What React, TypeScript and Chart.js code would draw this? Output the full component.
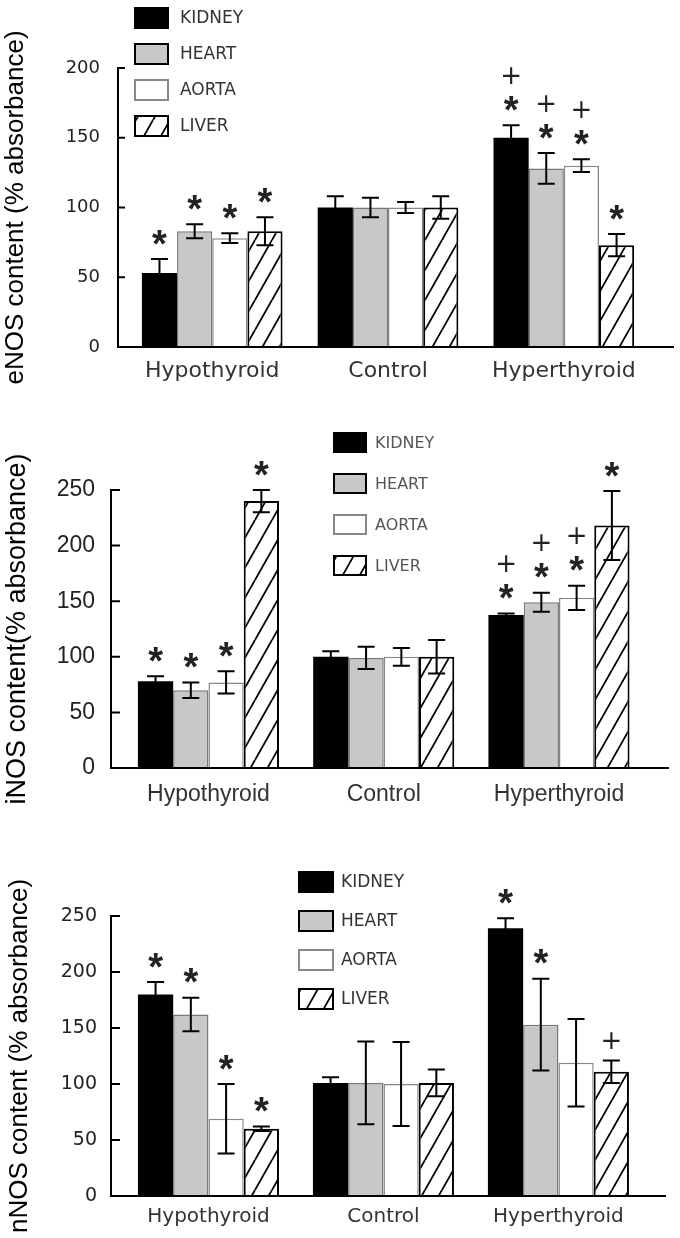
import React, { useEffect, useRef } from 'react';
import { Chart, registerables } from 'chart.js';

Chart.register(...registerables);

// ---------- data ----------
const groups = ['Hypothyroid', 'Control', 'Hyperthyroid'];
const tissues = ['KIDNEY', 'HEART', 'AORTA', 'LIVER'];

const yTicks200 = [0, 50, 100, 150, 200];
const yTicks250 = [0, 50, 100, 150, 200, 250];

// eNOS (% absorbance)
const eNOSKidney = [53, 100, 150];
const eNOSHeart = [83, 100, 128];
const eNOSAorta = [78, 100, 130];
const eNOSLiver = [83, 100, 73];
const eNOSKidneyErr = [10, 8, 9];
const eNOSHeartErr = [5, 7, 11];
const eNOSAortaErr = [3.5, 4, 4.5];
const eNOSLiverErr = [10, 8, 8];
const eNOSKidneyMarks = ['*', '', '*+'];
const eNOSHeartMarks = ['*', '', '*+'];
const eNOSAortaMarks = ['*', '', '*+'];
const eNOSLiverMarks = ['*', '', '*'];

// iNOS (% absorbance)
const iNOSKidney = [78, 100, 137.5];
const iNOSHeart = [70, 99, 149];
const iNOSAorta = [77, 100, 153];
const iNOSLiver = [240, 100, 218];
const iNOSKidneyErr = [4.5, 5, 1.5];
const iNOSHeartErr = [7, 10, 8.5];
const iNOSAortaErr = [10, 8, 11];
const iNOSLiverErr = [10, 15, 31];
const iNOSKidneyMarks = ['*', '', '*+'];
const iNOSHeartMarks = ['*', '', '*+'];
const iNOSAortaMarks = ['*', '', '*+'];
const iNOSLiverMarks = ['*', '', '*'];

// nNOS (% absorbance)
const nNOSKidney = [180, 101, 239];
const nNOSHeart = [162, 101, 153];
const nNOSAorta = [69, 100, 119];
const nNOSLiver = [60, 101, 111];
const nNOSKidneyErr = [11, 5, 9];
const nNOSHeartErr = [15, 37, 41];
const nNOSAortaErr = [31, 37.5, 39];
const nNOSLiverErr = [2, 12, 10];
const nNOSKidneyMarks = ['*', '', '*'];
const nNOSHeartMarks = ['*', '', '*'];
const nNOSAortaMarks = ['*', '', ''];
const nNOSLiverMarks = ['*', '', '+'];

// ---------- styles ----------
const tissueStyles = [
  { fill: '#000000', border: '#000000', borderWidth: 0, legendBorder: '#000000', legendBorderWidth: 0 },
  { fill: '#c8c8c8', border: '#777777', borderWidth: 1.5, legendBorder: '#000000', legendBorderWidth: 2 },
  { fill: '#ffffff', border: '#888888', borderWidth: 1.5, legendBorder: '#888888', legendBorderWidth: 2 },
  { fill: 'hatch', border: '#000000', borderWidth: 2, legendBorder: '#000000', legendBorderWidth: 2 },
];

type PanelCfg = {
  top: number;
  height: number;
  title: string;
  values: number[][];
  errors: number[][];
  marks: string[][];
  yMax: number;
  yTicks: number[];
  area: { left: number; right: number; top: number; bottom: number };
  xMin: number;
  xMax: number;
  catPct: number;
  tickFont: any;
  tickPad: number;
  catFont: any;
  catPad: number;
  titleFont: any;
  titlePad: number;
  tickLen: number;
  legend: { x: number; y: number; w: number; h: number; gap: number; textX: number; font: string; color: string };
};

const panels: PanelCfg[] = [
  {
    top: 0,
    height: 395,
    title: 'eNOS content (% absorbance)',
    values: [eNOSKidney, eNOSHeart, eNOSAorta, eNOSLiver],
    errors: [eNOSKidneyErr, eNOSHeartErr, eNOSAortaErr, eNOSLiverErr],
    marks: [eNOSKidneyMarks, eNOSHeartMarks, eNOSAortaMarks, eNOSLiverMarks],
    yMax: 200,
    yTicks: yTicks200,
    area: { left: 118, right: 673, top: 68, bottom: 347 },
    xMin: -0.536,
    xMax: 2.621,
    catPct: 0.8,
    tickFont: { family: 'DejaVu Sans', size: 18 },
    tickPad: 18,
    catFont: { family: 'DejaVu Sans', size: 22 },
    catPad: 11,
    titleFont: { family: 'Liberation Sans', size: 26 },
    titlePad: 0,
    tickLen: 7,
    legend: { x: 134, y: 7, w: 35, h: 22, gap: 36, textX: 180, font: '17px "DejaVu Sans"', color: '#333333' },
  },
  {
    top: 400,
    height: 425,
    title: 'iNOS content(% absorbance)',
    values: [iNOSKidney, iNOSHeart, iNOSAorta, iNOSLiver],
    errors: [iNOSKidneyErr, iNOSHeartErr, iNOSAortaErr, iNOSLiverErr],
    marks: [iNOSKidneyMarks, iNOSHeartMarks, iNOSAortaMarks, iNOSLiverMarks],
    yMax: 250,
    yTicks: yTicks250,
    area: { left: 111, right: 668, top: 90, bottom: 368 },
    xMin: -0.556,
    xMax: 2.622,
    catPct: 0.805,
    tickFont: { family: 'Liberation Sans', size: 23 },
    tickPad: 16,
    catFont: { family: 'Liberation Sans', size: 23 },
    catPad: 13,
    titleFont: { family: 'Liberation Sans', size: 27 },
    titlePad: 1,
    tickLen: 9,
    legend: { x: 333, y: 32, w: 34, h: 21, gap: 41, textX: 375, font: '16px "DejaVu Sans"', color: '#555555' },
  },
  {
    top: 830,
    height: 408,
    title: 'nNOS content (% absorbance)',
    values: [nNOSKidney, nNOSHeart, nNOSAorta, nNOSLiver],
    errors: [nNOSKidneyErr, nNOSHeartErr, nNOSAortaErr, nNOSLiverErr],
    marks: [nNOSKidneyMarks, nNOSHeartMarks, nNOSAortaMarks, nNOSLiverMarks],
    yMax: 250,
    yTicks: yTicks250,
    area: { left: 111, right: 665, top: 86, bottom: 366 },
    xMin: -0.557,
    xMax: 2.609,
    catPct: 0.806,
    tickFont: { family: 'DejaVu Sans', size: 19 },
    tickPad: 14,
    catFont: { family: 'DejaVu Sans', size: 20 },
    catPad: 9,
    titleFont: { family: 'Liberation Sans', size: 26 },
    titlePad: 4,
    tickLen: 9,
    legend: { x: 298, y: 41, w: 36, h: 22, gap: 39, textX: 341, font: '17px "DejaVu Sans"', color: '#333333' },
  },
];

const CAP_HALF = 8.5;
const STAR_FONT = 'bold 38px "Liberation Sans"';
const PLUS_FONT = '26px "DejaVu Sans"';
const STAR_OFFSET = 22;
const PLUS_GAP = 28;
const PLUS_ONLY_OFFSET = 20;

function makeHatch(ctx: CanvasRenderingContext2D) {
  const w = 17;
  const h = 30;
  const c = document.createElement('canvas');
  c.width = w;
  c.height = h;
  const g = c.getContext('2d')!;
  g.fillStyle = '#ffffff';
  g.fillRect(0, 0, w, h);
  g.strokeStyle = '#000000';
  g.lineWidth = 1.8;
  g.beginPath();
  for (const dx of [-w, 0, w]) {
    g.moveTo(dx, h);
    g.lineTo(dx + w, 0);
  }
  g.stroke();
  return ctx.createPattern(c, 'repeat')!;
}

function drawCentered(ctx: CanvasRenderingContext2D, text: string, x: number, cy: number, font: string) {
  ctx.font = font;
  ctx.textAlign = 'center';
  ctx.textBaseline = 'alphabetic';
  const m = ctx.measureText(text);
  const base = cy + (m.actualBoundingBoxAscent - m.actualBoundingBoxDescent) / 2;
  ctx.fillText(text, x, base);
}

function Panel({ cfg }: { cfg: PanelCfg }) {
  const ref = useRef<HTMLCanvasElement>(null);

  useEffect(() => {
    const canvas = ref.current!;
    const ctx0 = canvas.getContext('2d')!;
    const hatch = makeHatch(ctx0);
    const fills = tissueStyles.map((s) => (s.fill === 'hatch' ? hatch : s.fill));

    const datasets = tissues.map((t, i) => ({
      label: t,
      data: groups.map((_, g) => ({ x: g, y: cfg.values[i][g] })),
      backgroundColor: fills[i],
      borderColor: tissueStyles[i].border,
      borderWidth: tissueStyles[i].borderWidth,
      errorBars: cfg.errors[i],
      marks: cfg.marks[i],
    }));

    const errorPlugin = {
      id: 'errorsAndMarks',
      afterDatasetsDraw(chart: any) {
        const ctx = chart.ctx as CanvasRenderingContext2D;
        const ys = chart.scales.y;
        chart.data.datasets.forEach((ds: any, di: number) => {
          const meta = chart.getDatasetMeta(di);
          meta.data.forEach((bar: any, i: number) => {
            const v = ds.data[i].y;
            const e = ds.errorBars[i];
            const x = bar.x;
            const yt = ys.getPixelForValue(v + e);
            const yb = ys.getPixelForValue(v - e);
            ctx.save();
            ctx.strokeStyle = '#000000';
            ctx.lineWidth = 2;
            ctx.beginPath();
            ctx.moveTo(x, yt);
            ctx.lineTo(x, yb);
            ctx.moveTo(x - CAP_HALF, yt);
            ctx.lineTo(x + CAP_HALF, yt);
            ctx.moveTo(x - CAP_HALF, yb);
            ctx.lineTo(x + CAP_HALF, yb);
            ctx.stroke();
            const m: string = ds.marks[i] || '';
            ctx.fillStyle = '#222222';
            let cy = yt - STAR_OFFSET;
            if (m.includes('*')) {
              drawCentered(ctx, '*', x, cy, STAR_FONT);
              cy -= PLUS_GAP;
            } else {
              cy = yt - PLUS_ONLY_OFFSET;
            }
            if (m.includes('+')) drawCentered(ctx, '+', x, cy, PLUS_FONT);
            ctx.restore();
          });
        });
      },
    };

    const decorPlugin = {
      id: 'decor',
      afterDraw(chart: any) {
        const ctx = chart.ctx as CanvasRenderingContext2D;
        const ys = chart.scales.y;
        const left = chart.chartArea.left;
        ctx.save();
        // inward tick marks
        ctx.strokeStyle = '#000000';
        ctx.lineWidth = 2;
        ctx.beginPath();
        ys.ticks.forEach((t: any) => {
          const y = ys.getPixelForValue(t.value);
          ctx.moveTo(left, y);
          ctx.lineTo(left + cfg.tickLen, y);
        });
        ctx.stroke();
        // legend
        const L = cfg.legend;
        chart.data.datasets.forEach((ds: any, i: number) => {
          const st = tissueStyles[i];
          const bx = L.x;
          const by = L.y + i * L.gap;
          ctx.fillStyle = fills[i] as any;
          ctx.fillRect(bx, by, L.w, L.h);
          if (st.legendBorderWidth) {
            const lw = st.legendBorderWidth;
            ctx.lineWidth = lw;
            ctx.strokeStyle = st.legendBorder;
            ctx.strokeRect(bx + lw / 2, by + lw / 2, L.w - lw, L.h - lw);
          }
          ctx.fillStyle = L.color;
          ctx.font = L.font;
          ctx.textAlign = 'left';
          ctx.textBaseline = 'middle';
          ctx.fillText(ds.label, L.textX, by + L.h / 2 + 1);
        });
        ctx.restore();
      },
    };

    const chart = new Chart(canvas, {
      type: 'bar',
      data: { datasets: datasets as any },
      options: {
        responsive: false,
        animation: false,
        events: [],
        layout: {
          padding: { top: cfg.area.top, right: 680 - cfg.area.right, left: 0, bottom: 0 },
        },
        datasets: {
          bar: { categoryPercentage: cfg.catPct, barPercentage: 1 },
        },
        plugins: {
          legend: { display: false },
          tooltip: { enabled: false },
        },
        scales: {
          x: {
            type: 'linear',
            min: cfg.xMin,
            max: cfg.xMax,
            offset: false,
            grid: { display: false, drawTicks: false },
            border: { display: true, color: '#000000', width: 2, z: 1 },
            afterBuildTicks: (scale: any) => {
              scale.ticks = groups.map((_, i) => ({ value: i }));
            },
            afterFit: (scale: any) => {
              scale.height = cfg.height - cfg.area.bottom;
            },
            ticks: {
              autoSkip: false,
              maxRotation: 0,
              minRotation: 0,
              padding: cfg.catPad,
              color: '#333333',
              font: cfg.catFont,
              callback: (v: any) => groups[Number(v)] ?? '',
            },
          },
          y: {
            type: 'linear',
            min: 0,
            max: cfg.yMax,
            grid: { display: false, drawTicks: false },
            border: { display: true, color: '#000000', width: 2, z: 1 },
            afterBuildTicks: (scale: any) => {
              scale.ticks = cfg.yTicks.map((v) => ({ value: v }));
            },
            afterFit: (scale: any) => {
              scale.width = cfg.area.left;
            },
            ticks: {
              padding: cfg.tickPad,
              color: '#222222',
              font: cfg.tickFont,
            },
            title: {
              display: true,
              text: cfg.title,
              color: '#000000',
              font: cfg.titleFont,
              padding: { top: cfg.titlePad, bottom: 0 },
            },
          },
        },
      } as any,
      plugins: [errorPlugin, decorPlugin],
    });

    return () => chart.destroy();
  }, [cfg]);

  return (
    <canvas
      ref={ref}
      width={680}
      height={cfg.height}
      style={{ position: 'absolute', left: 0, top: cfg.top, width: 680, height: cfg.height }}
    />
  );
}

export default function App() {
  return (
    <div style={{ position: 'absolute', left: 0, top: 0, width: 680, height: 1238, background: '#ffffff', overflow: 'hidden' }}>
      {panels.map((p, i) => (
        <Panel key={i} cfg={p} />
      ))}
    </div>
  );
}
